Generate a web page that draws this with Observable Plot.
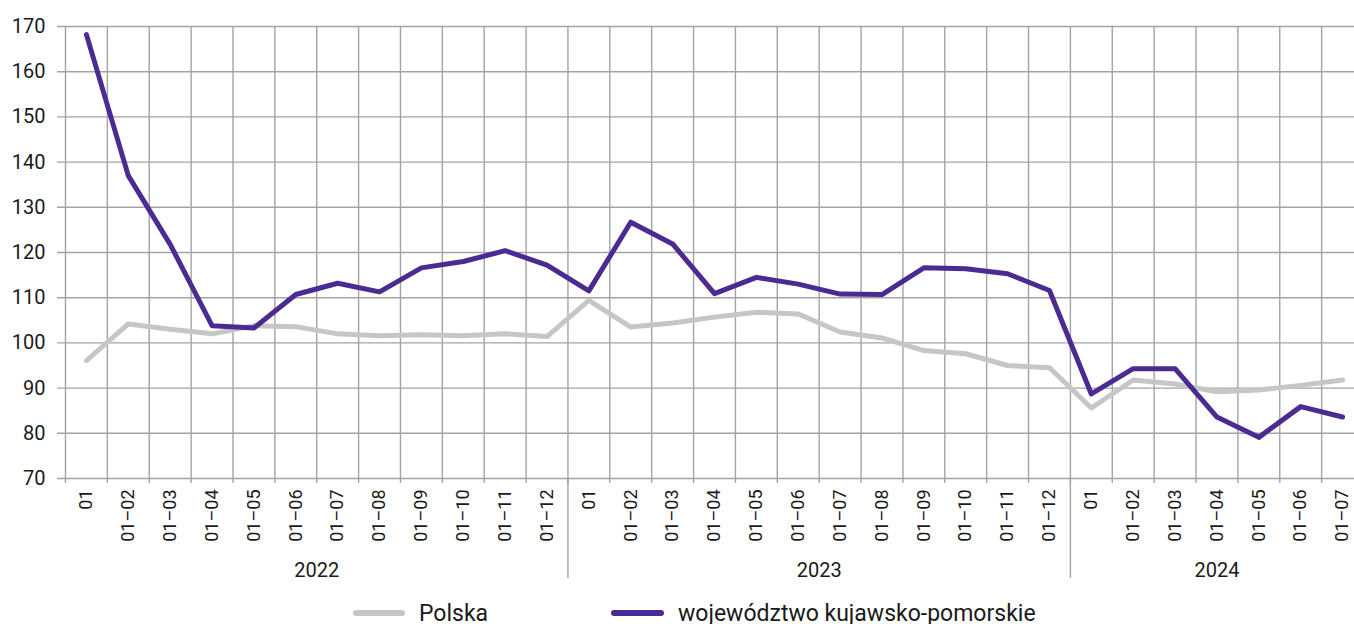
<!DOCTYPE html>
<html>
<head>
<meta charset="utf-8">
<script src="https://cdn.jsdelivr.net/npm/d3@7"></script>
<script src="https://cdn.jsdelivr.net/npm/@observablehq/plot@0.6"></script>
<style>
  html, body { margin: 0; padding: 0; background: #fff; overflow: hidden; }
  body { width: 1354px; height: 624px; font-family: Roboto, "Noto Sans", sans-serif; color: #1a1a1a; }
  #chart { position: relative; width: 1363px; }
  #legend { position: relative; height: 32px; font-size: 23px; }
  .item { position: absolute; top: 0; display: flex; align-items: center; height: 42px; }
  .sw { height: 6px; border-radius: 3px; margin-right: 14px; }
</style>
</head>
<body>
<div id="chart"></div>
<div id="legend"></div>
<script>
const years = ["2022", "2023", "2024"];
const periodLabels = [
  ["01","01–02","01–03","01–04","01–05","01–06","01–07","01–08","01–09","01–10","01–11","01–12"],
  ["01","01–02","01–03","01–04","01–05","01–06","01–07","01–08","01–09","01–10","01–11","01–12"],
  ["01","01–02","01–03","01–04","01–05","01–06","01–07"]
];
const seriesNames = ["Polska", "województwo kujawsko-pomorskie"];
const polska = [96.1,104.2,103.0,102.0,103.8,103.6,102.0,101.6,101.8,101.6,102.0,101.4,
                109.4,103.5,104.4,105.7,106.8,106.4,102.4,101.1,98.3,97.6,95.0,94.5,
                85.6,91.8,90.9,89.2,89.6,90.6,91.8];
const kujawsko = [168.2,137.0,121.8,103.8,103.3,110.7,113.2,111.3,116.6,118.0,120.4,117.2,
                  111.5,126.7,121.9,110.9,114.5,113.0,110.8,110.7,116.6,116.4,115.3,111.6,
                  88.7,94.3,94.3,83.6,79.1,85.9,83.6];
const yTicks = [70,80,90,100,110,120,130,140,150,160,170];
const colors = ["#c6c6c6", "#4b2a91"];

// Build table
const rows = [];
let idx = 0;
const yearGroups = [];
years.forEach((yr, yi) => {
  const start = idx;
  periodLabels[yi].forEach(lab => {
    rows.push({i: idx, year: yr, label: lab, polska: polska[idx], kp: kujawsko[idx]});
    idx++;
  });
  yearGroups.push({year: yr, start, end: idx - 1});
});
const n = rows.length;
const boundaries = d3.range(n + 1).map(k => k - 0.5);
const separators = yearGroups.slice(1).map(g => g.start - 0.5);
const grid = "#a3a3a3";

const chart = Plot.plot({
  width: 1363,
  height: 592,
  marginLeft: 65,
  marginRight: 0,
  marginTop: 26,
  marginBottom: 114,
  style: {fontFamily: "Roboto, 'Noto Sans', sans-serif", color: "#1a1a1a", background: "#fff"},
  x: {type: "linear", domain: [-0.5, n - 0.5], axis: null},
  y: {domain: [70, 170], ticks: yTicks, tickSize: 0, tickPadding: 20, tickFormat: d => String(d), label: null},
  marks: [
    Plot.ruleY(yTicks, {y: d => d, stroke: grid, strokeWidth: 1.4, insetLeft: -8}),
    Plot.ruleX(boundaries, {x: d => d, stroke: grid, strokeWidth: 1.4, insetBottom: -5}),
    Plot.ruleX(separators, {x: d => d, y1: () => 70, y2: () => 70, stroke: grid, strokeWidth: 1.4, insetBottom: -100}),
    Plot.axisY({ticks: yTicks, tickSize: 0, tickPadding: 20, fontSize: 20, tickFormat: d => String(d), label: null}),
    Plot.line(rows, {x: "i", y: "polska", stroke: colors[0], strokeWidth: 5, strokeLinejoin: "round", strokeLinecap: "round"}),
    Plot.line(rows, {x: "i", y: "kp", stroke: colors[1], strokeWidth: 5, strokeLinejoin: "round", strokeLinecap: "round"}),
    Plot.text(rows, {x: "i", y: () => 70, text: "label", rotate: -90, textAnchor: "end", dy: 11, fontSize: 18, fill: "#1a1a1a"}),
    Plot.text(yearGroups, {x: d => (d.start + d.end) / 2, y: () => 70, text: "year", dy: 92, fontSize: 20, fill: "#1a1a1a"})
  ]
});
document.getElementById("chart").appendChild(chart);

const legend = document.getElementById("legend");
const lpos = [{sw: 353, w: 52}, {sw: 611, w: 53}];
seriesNames.forEach((name, k) => {
  const it = document.createElement("div");
  it.className = "item";
  it.style.left = lpos[k].sw + "px";
  const sw = document.createElement("div");
  sw.className = "sw";
  sw.style.width = lpos[k].w + "px";
  sw.style.background = colors[k];
  const tx = document.createElement("span");
  tx.textContent = name;
  it.appendChild(sw);
  it.appendChild(tx);
  legend.appendChild(it);
});
</script>
</body>
</html>
